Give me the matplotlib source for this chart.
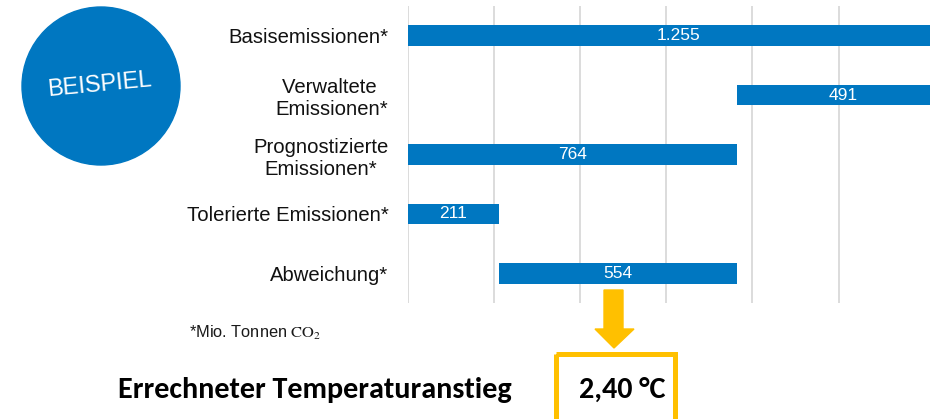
import matplotlib
matplotlib.use("Agg")
import matplotlib.pyplot as plt
from matplotlib.patches import Circle, Polygon, Rectangle

plt.rcParams['font.family'] = ['Liberation Sans', 'DejaVu Sans']
plt.rcParams['mathtext.fontset'] = 'stix'

# ---- data ----
categories = ["Basisemissionen*", "Verwaltete \nEmissionen*", "Prognostizierte\nEmissionen*",
              "Tolerierte Emissionen*", "Abweichung*"]
starts = [0, 764, 0, 0, 211]
values = [1255, 491, 764, 211, 554]
value_labels = ["1.255", "491", "764", "211", "554"]
grid_ticks = [0, 200, 400, 600, 800, 1000]
result_label = "Errechneter Temperaturanstieg"
result_value = "2,40 °C"
footnote = "*Mio. Tonnen $\\mathrm{CO_2}$"
badge = "BEISPIEL"

BLUE = "#0077C1"
YELLOW = "#FFC000"

W, H = 930, 419
fig = plt.figure(figsize=(W / 100, H / 100), dpi=100)

# main chart axes (pixel geometry)
px_per_unit = 0.4306
x_max = 1300
ax_left, ax_top, ax_bottom = 408, 6, 303
ax = fig.add_axes([ax_left / W, (H - ax_bottom) / H, x_max * px_per_unit / W, (ax_bottom - ax_top) / H])
ax.set_xlim(0, x_max)
ypos = list(range(len(categories)))
ax.barh(ypos, values, left=starts, height=0.35, color=BLUE, zorder=3)
for y, s, v, lab in zip(ypos, starts, values, value_labels):
    ax.text(s + v / 2, y, lab, ha='center', va='center', color='white', fontsize=12.5, zorder=4)
ax.set_ylim(len(categories) - 0.5, -0.5)
ax.set_yticks(ypos)
ax.set_yticklabels(categories, fontsize=14.6, multialignment='center', color='#111111')
ax.tick_params(axis='y', length=0, pad=14)
ax.set_xticks(grid_ticks)
ax.tick_params(axis='x', length=0, labelbottom=False)
ax.grid(axis='x', color='#d9d9d9', linewidth=1.3, zorder=0)
ax.grid(axis='y', visible=False)
for sp in ax.spines.values():
    sp.set_visible(False)

# overlay axes in pixel coordinates
ov = fig.add_axes([0, 0, 1, 1], zorder=5)
ov.set_xlim(0, W)
ov.set_ylim(H, 0)
ov.axis('off')

ov.add_patch(Circle((101, 86), 79, color=BLUE))
ov.text(100, 85, badge, color='white', fontsize=17, rotation=5.5, ha='center', va='center',
        rotation_mode='anchor')

ov.add_patch(Polygon([(604, 290), (623, 290), (623, 329), (634, 329), (614, 348),
                      (595, 329), (604, 329)], closed=True, color=YELLOW))
ov.add_patch(Rectangle((555.5, 353.5), 119, 80, fill=False, edgecolor=YELLOW, linewidth=3.6))

ov.text(189, 333, footnote, fontsize=11.8, ha='left', va='center', color='#1a1a1a')
bold_font = ['Carlito', 'Lato', 'DejaVu Sans']
ov.text(118, 390, result_label, fontsize=21.7, fontweight='bold', family=bold_font,
        ha='left', va='center', color='black')
ov.text(622, 390, result_value, fontsize=21.7, fontweight='bold', family=bold_font,
        ha='center', va='center', color='black')

fig.savefig("out.png", dpi=100)
